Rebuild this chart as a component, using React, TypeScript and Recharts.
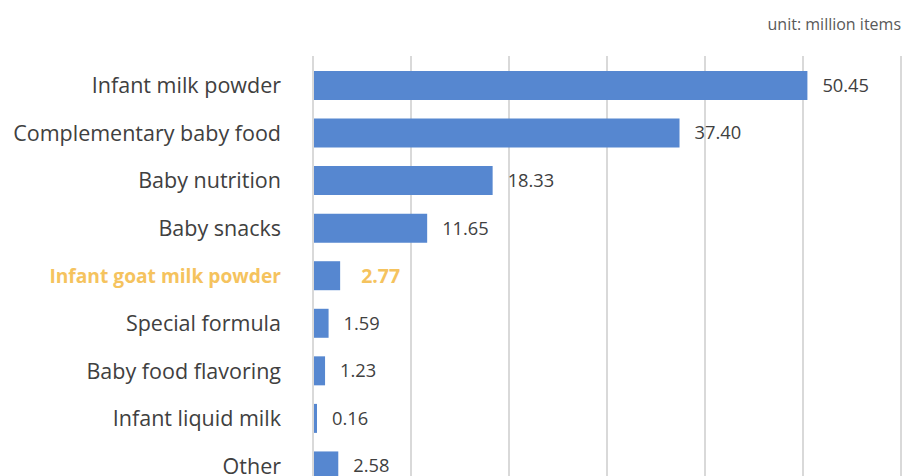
import React from "react";
import { BarChart, Bar, XAxis, YAxis, CartesianGrid, LabelList } from "recharts";

const categories = [
  "Infant milk powder",
  "Complementary baby food",
  "Baby nutrition",
  "Baby snacks",
  "Infant goat milk powder",
  "Special formula",
  "Baby food flavoring",
  "Infant liquid milk",
  "Other",
];
const values = [50.45, 37.4, 18.33, 11.65, 2.77, 1.59, 1.23, 0.16, 2.58];
const xTicks = [0, 10, 20, 30, 40, 50, 60];
const highlight = "Infant goat milk powder";
const unitLabel = "unit: million items";

const data = categories.map((name, i) => ({ name, value: values[i] }));

const FONT = "'Open Sans', 'Noto Sans', sans-serif";
const BAR = "#5687D0";
const HL = "#F5C35E";
const TXT = "#404040";

const CategoryTick = (props: any) => {
  const { x, y, payload } = props;
  const hl = payload.value === highlight;
  return (
    <text
      x={x}
      y={y}
      dy="0.35em"
      textAnchor="end"
      fontFamily={FONT}
      fontSize={hl ? 19.2 : 21.5}
      fontWeight={hl ? 700 : 400}
      fill={hl ? HL : TXT}
    >
      {payload.value}
    </text>
  );
};

const ValueLabel = (props: any) => {
  const { x, y, width, height, value, index } = props;
  const hl = categories[index] === highlight;
  return (
    <text
      x={x + width + (hl ? 21 : 15)}
      y={y + height / 2}
      dy="0.35em"
      textAnchor="start"
      fontFamily={FONT}
      fontSize={hl ? 19.5 : 18.3}
      fontWeight={hl ? 700 : 400}
      fill={hl ? HL : TXT}
    >
      {Number(value).toFixed(2)}
    </text>
  );
};

export default function App() {
  return (
    <div
      style={{
        position: "absolute",
        left: 0,
        top: 0,
        width: 903,
        height: 476,
        overflow: "hidden",
        background: "#fff",
      }}
    >
      <div
        style={{
          position: "absolute",
          right: 2,
          top: 13,
          fontFamily: FONT,
          fontSize: 16,
          color: "#595959",
        }}
      >
        {unitLabel}
      </div>
      <BarChart
        width={903}
        height={490}
        data={data}
        layout="vertical"
        margin={{ top: 56, right: 2, left: 0, bottom: 0 }}
      >
        <CartesianGrid horizontal={false} stroke="#D9D9D9" strokeWidth={2} />
        <XAxis type="number" domain={[0, 60]} ticks={xTicks} hide />
        <YAxis
          type="category"
          dataKey="name"
          width={313}
          tickLine={false}
          tickSize={0}
          tickMargin={32}
          axisLine={{ stroke: "#D9D9D9", strokeWidth: 2 }}
          padding={{ top: 6, bottom: 0 }}
          tick={<CategoryTick />}
          interval={0}
        />
        <Bar dataKey="value" fill={BAR} barSize={29} minPointSize={4} isAnimationActive={false}>
          <LabelList dataKey="value" content={<ValueLabel />} />
        </Bar>
      </BarChart>
    </div>
  );
}
